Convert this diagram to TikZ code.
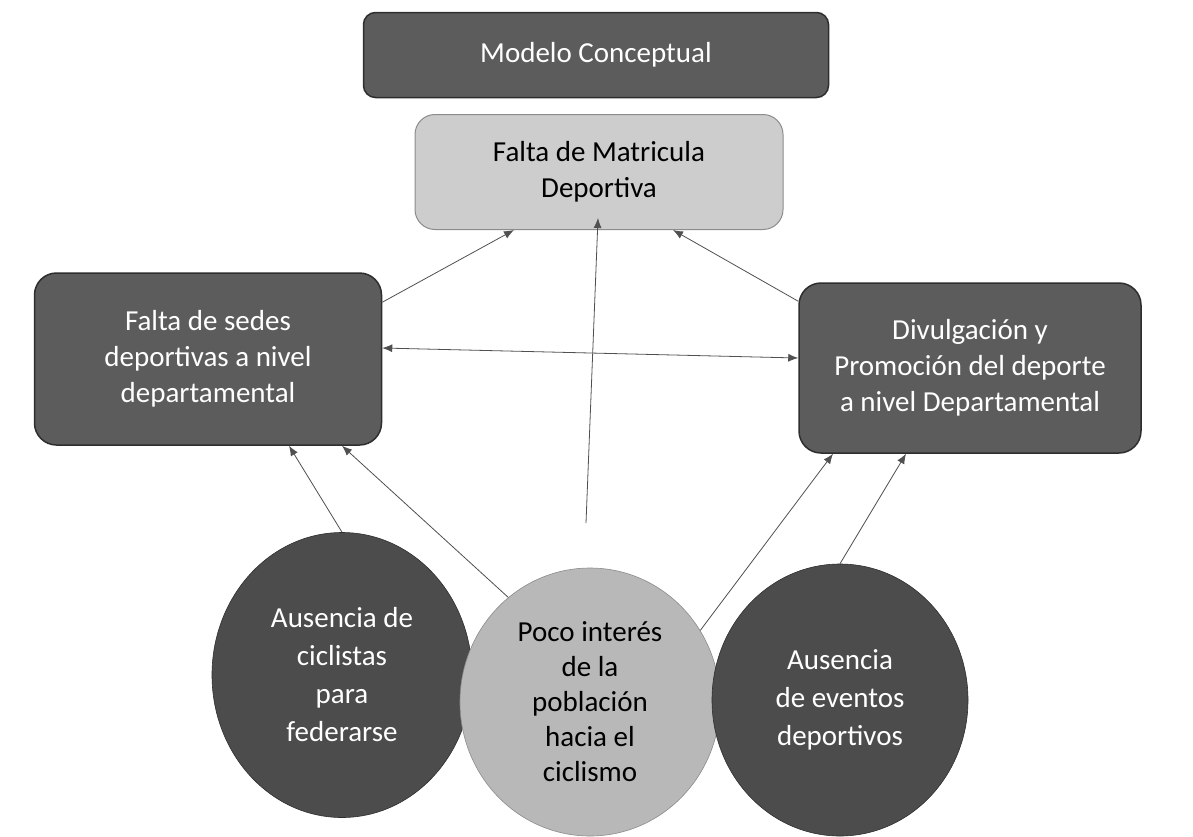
\documentclass[tikz,border=0pt]{standalone}
\usepackage{fontspec}
\setmainfont{Carlito}
\usepackage{xcolor}
\usetikzlibrary{shapes.geometric,arrows.meta}
\definecolor{dark-fill}{HTML}{5C5C5C}
\definecolor{dark-edge}{HTML}{2E2E2E}
\definecolor{light-fill}{HTML}{CDCDCD}
\definecolor{light-edge}{HTML}{8C8C8C}
\definecolor{link-gray}{HTML}{505050}
\tikzset{
    big-text/.style = {font=\fontsize{29}{36}\selectfont},
    dark-box/.style = {draw=dark-edge, fill=dark-fill, line width=1.5pt, rectangle, rounded corners=22pt, text=white, align=center, inner sep=0pt, big-text},
    light-box/.style = {draw=light-edge, fill=light-fill, line width=1pt, rectangle, rounded corners=20pt, text=black, align=center, inner sep=0pt, big-text},
    dark-circle/.style = {draw=dark-edge, fill=dark-fill!110, line width=0.6pt, ellipse, text=white, align=center, inner sep=0pt, font=\fontsize{29}{38}\selectfont},
    light-circle/.style = {draw=light-edge, fill=light-fill!90!black, line width=0.6pt, ellipse, text=black, align=center, inner sep=0pt, font=\fontsize{29}{35}\selectfont},
    link-arrow/.style = {draw=link-gray, line width=0.8pt, -{Latex[length=10pt,width=8pt]}},
}

\begin{document}
\begin{tikzpicture}[x=1pt,y=-1pt]
\fill[white] (0,0) rectangle (1193,836);
\useasboundingbox (0,0) rectangle (1193,836);

% boxes
\node [dark-box, rounded corners=12pt, minimum width=465pt, minimum height=85pt] (modelo) at (596,55) {Modelo Conceptual};
\node [light-box, minimum width=368pt, minimum height=115pt] (matricula) at (599,172) {Falta de Matricula\\Deportiva};
\node [dark-box, minimum width=347pt, minimum height=172pt] (sedes) at (208,359) {Falta de sedes\\deportivas a nivel\\departamental};
\node [dark-box, minimum width=342pt, minimum height=170pt] (divulgacion) at (970,368) {Divulgación y\\Promoción del deporte\\a nivel Departamental};

% causes
\node [dark-circle, minimum width=260pt, minimum height=285pt] (ciclistas) at (342,675) {Ausencia de\\ciclistas\\para\\federarse};
\node [light-circle, minimum width=260pt, minimum height=268pt] (interes) at (590,702) {Poco interés\\de la\\población\\hacia el\\ciclismo};
\node [dark-circle, minimum width=256pt, minimum height=272pt] (eventos) at (840,700) {Ausencia\\de eventos\\deportivos};

\coordinate (interes-top) at (586,523);

% links
\draw [link-arrow] ([yshift=-30pt]sedes.north east) -- ([xshift=-85pt]matricula.south);
\draw [link-arrow] ([yshift=-19pt]divulgacion.north west) -- ([xshift=74pt]matricula.south);
\draw [link-arrow] (interes-top) -- ([xshift=-1pt,yshift=12pt]matricula.south);
\draw [link-arrow, {Latex[length=10pt,width=8pt]}-{Latex[length=10pt,width=8pt]}] ([yshift=11pt]sedes.east) -- ([yshift=10pt]divulgacion.west);
\draw [link-arrow] (ciclistas.north) -- ([xshift=81pt]sedes.south);
\draw [link-arrow] (interes.128) -- ([xshift=134pt]sedes.south);
\draw [link-arrow] (interes.33) -- ([xshift=-137pt]divulgacion.south);
\draw [link-arrow] (eventos.north) -- ([xshift=-64pt]divulgacion.south);
\end{tikzpicture}
\end{document}
